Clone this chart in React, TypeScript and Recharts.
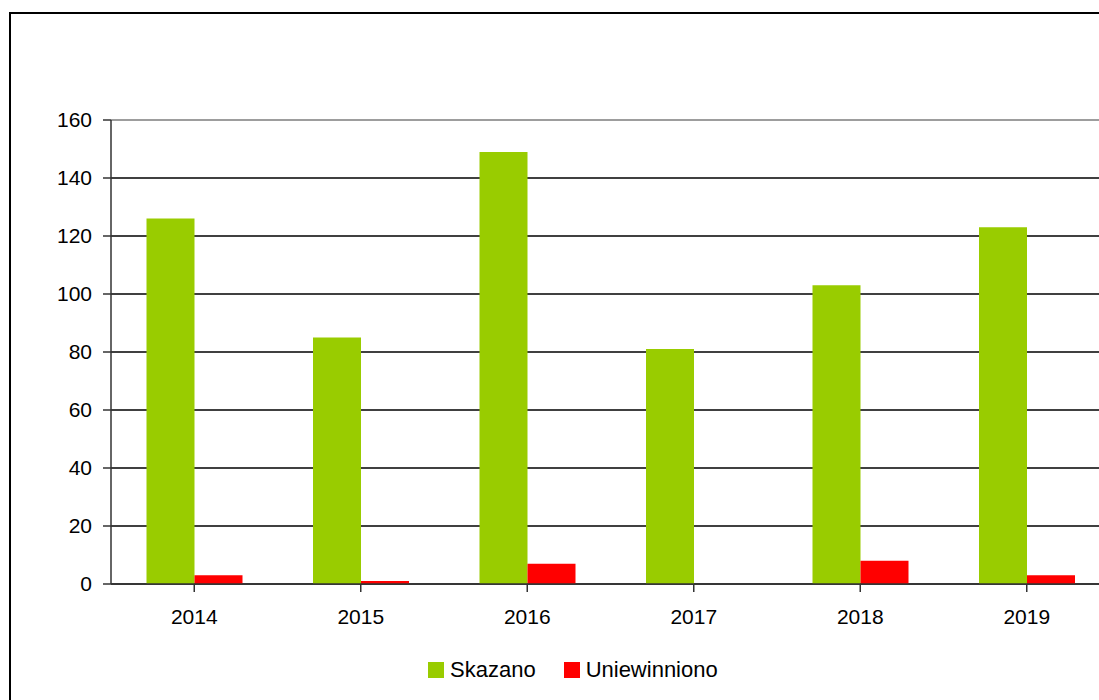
import React from "react";
import { BarChart, Bar, XAxis, YAxis, CartesianGrid, Legend, ReferenceLine } from "recharts";

const years = ["2014", "2015", "2016", "2017", "2018", "2019"];
const skazano = [126, 85, 149, 81, 103, 123];
const uniewinniono = [3, 1, 7, 0, 8, 3];
const yTicks = [0, 20, 40, 60, 80, 100, 120, 140, 160];
const seriesNames = ["Skazano", "Uniewinniono"];
const seriesColors = ["#99CC00", "#FF0000"];

const data = years.map((y, i) => ({ year: y, skazano: skazano[i], uniewinniono: uniewinniono[i] }));

const FONT = "'Liberation Sans', Arial, sans-serif";

const LegendContent = () => (
  <div style={{ display: "flex", alignItems: "center", fontFamily: FONT, fontSize: 22, color: "#000", whiteSpace: "nowrap" }}>
    {seriesNames.map((n, i) => (
      <div key={n} style={{ display: "flex", alignItems: "center", marginRight: i === 0 ? 28 : 0 }}>
        <span style={{ display: "inline-block", width: 16, height: 16, background: seriesColors[i], marginRight: 6 }} />
        <span>{n}</span>
      </div>
    ))}
  </div>
);

export default function App() {
  return (
    <div style={{ position: "fixed", left: 0, top: 0, width: 1099, height: 700, overflow: "hidden", background: "#fff" }}>
      <div style={{ position: "absolute", left: 9, top: 12, width: 1120, height: 720, border: "2px solid #000", boxSizing: "border-box" }} />
      <div style={{ position: "absolute", left: 0, top: 0 }}>
        <BarChart
          width={1130}
          height={700}
          data={data}
          margin={{ top: 120, right: 20, left: 0, bottom: 86 }}
          barCategoryGap={35.5}
          barGap={0}
        >
          <CartesianGrid vertical={false} stroke="#000" strokeWidth={1.3} />
          <ReferenceLine y={160} stroke="#bdbdbd" strokeWidth={1.5} />
          <XAxis
            dataKey="year"
            height={30}
            axisLine={{ stroke: "#333", strokeWidth: 1.5 }}
            tickLine={{ stroke: "#333", strokeWidth: 1.5 }}
            tickSize={8}
            tickMargin={17}
            tick={{ fill: "#000", fontSize: 21, fontFamily: FONT }}
            interval={0}
          />
          <YAxis
            width={111}
            domain={[0, 160]}
            ticks={yTicks}
            axisLine={{ stroke: "#333", strokeWidth: 1.5 }}
            tickLine={{ stroke: "#333", strokeWidth: 1.5 }}
            tickSize={8}
            tickMargin={11}
            tick={{ fill: "#000", fontSize: 21, fontFamily: FONT }}
          />
          <Legend
            verticalAlign="middle"
            align="center"
            content={<LegendContent />}
            wrapperStyle={{ left: 428, top: 657, width: 340 }}
          />
          <Bar dataKey="skazano" name="Skazano" fill={seriesColors[0]} isAnimationActive={false} />
          <Bar dataKey="uniewinniono" name="Uniewinniono" fill={seriesColors[1]} isAnimationActive={false} />
        </BarChart>
      </div>
    </div>
  );
}
